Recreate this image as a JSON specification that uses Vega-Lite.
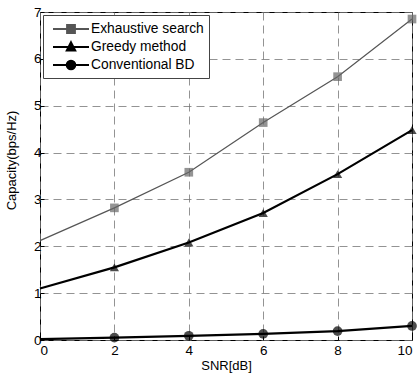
{
  "$schema": "https://vega.github.io/schema/vega-lite/v6.json",
  "width": 372,
  "height": 328,
  "autosize": "none",
  "padding": {"left": 40, "top": 12, "right": 7, "bottom": 34},
  "background": "white",
  "config": {
    "view": {"stroke": "black", "strokeWidth": 1},
    "font": "Liberation Sans",
    "axis": {
      "labelFont": "Liberation Sans", "labelFontSize": 13.5, "labelColor": "black",
      "titleFont": "Liberation Sans", "titleFontSize": 13, "titleFontWeight": "normal", "titleColor": "black",
      "grid": true, "gridColor": "#777", "gridDash": [8, 5], "gridWidth": 0.8,
      "domain": false, "ticks": true, "tickSize": -4, "tickColor": "black"
    },
    "legend": {
      "orient": "top-left", "offset": 3,
      "strokeColor": "#444", "fillColor": "white", "padding": 5,
      "labelFont": "Liberation Sans", "labelFontSize": 13.8, "labelColor": "black",
      "symbolSize": 256, "rowPadding": 1, "symbolOffset": 14, "labelOffset": 11,
      "symbolOpacity": 1, "symbolStrokeWidth": 1.6, "symbolStrokeColor": "black"
    }
  },
  "data": {"values": [
    {"snr": 0, "cap": 2.12, "method": "Exhaustive search"},
    {"snr": 2, "cap": 2.82, "method": "Exhaustive search"},
    {"snr": 4, "cap": 3.58, "method": "Exhaustive search"},
    {"snr": 6, "cap": 4.64, "method": "Exhaustive search"},
    {"snr": 8, "cap": 5.62, "method": "Exhaustive search"},
    {"snr": 10, "cap": 6.85, "method": "Exhaustive search"},
    {"snr": 0, "cap": 1.1, "method": "Greedy method"},
    {"snr": 2, "cap": 1.55, "method": "Greedy method"},
    {"snr": 4, "cap": 2.08, "method": "Greedy method"},
    {"snr": 6, "cap": 2.71, "method": "Greedy method"},
    {"snr": 8, "cap": 3.54, "method": "Greedy method"},
    {"snr": 10, "cap": 4.48, "method": "Greedy method"},
    {"snr": 0, "cap": 0.02, "method": "Conventional BD"},
    {"snr": 2, "cap": 0.05, "method": "Conventional BD"},
    {"snr": 4, "cap": 0.09, "method": "Conventional BD"},
    {"snr": 6, "cap": 0.13, "method": "Conventional BD"},
    {"snr": 8, "cap": 0.19, "method": "Conventional BD"},
    {"snr": 10, "cap": 0.3, "method": "Conventional BD"}
  ]},
  "encoding": {
    "x": {"field": "snr", "type": "quantitative", "scale": {"domain": [0, 10]},
          "axis": {"values": [0, 2, 4, 6, 8, 10], "title": "SNR[dB]", "labelPadding": 7, "titlePadding": 3}},
    "y": {"field": "cap", "type": "quantitative", "scale": {"domain": [0, 7]},
          "axis": {"values": [0, 1, 2, 3, 4, 5, 6, 7], "title": "Capacity(bps/Hz)", "labelPadding": 3, "titleX": -22, "titleY": 148}}
  },
  "layer": [
    {
      "transform": [{"filter": "datum.method == 'Exhaustive search'"}],
      "mark": {"type": "line", "color": "#555", "strokeWidth": 1.2},
      "encoding": {}
    },
    {
      "transform": [{"filter": "datum.method == 'Greedy method'"}],
      "mark": {"type": "line", "color": "#000", "strokeWidth": 2.2},
      "encoding": {}
    },
    {
      "transform": [{"filter": "datum.method == 'Conventional BD'"}],
      "mark": {"type": "line", "color": "#000", "strokeWidth": 2.2},
      "encoding": {}
    },
    {
      "transform": [{"filter": "datum.snr > 0 && datum.method == 'Exhaustive search'"}],
      "mark": {"type": "point", "filled": true, "shape": "square", "size": 75, "color": "#666"}
    },
    {
      "transform": [{"filter": "datum.snr > 0 && datum.method == 'Greedy method'"}],
      "mark": {"type": "point", "filled": true, "shape": "triangle-up", "size": 85, "color": "#000"}
    },
    {
      "transform": [{"filter": "datum.snr > 0 && datum.method == 'Conventional BD'"}],
      "mark": {"type": "point", "filled": true, "shape": "circle", "size": 95, "color": "#000"}
    },
    {
      "mark": {"type": "point", "filled": true, "opacity": 0, "size": 256},
      "encoding": {
        "color": {"field": "method", "type": "nominal",
                  "scale": {"domain": ["Exhaustive search", "Greedy method", "Conventional BD"], "range": ["#555", "#000", "#000"]},
                  "legend": {"title": null,
                    "encode": {"symbols": {"update": {
                      "opacity": {"value": 1}, "fillOpacity": {"value": 1}, "strokeOpacity": {"value": 1},
                      "stroke": {"scale": "color", "field": "value"}, "strokeWidth": {"value": 1.8}}}}}},
        "shape": {"field": "method", "type": "nominal",
                  "scale": {"domain": ["Exhaustive search", "Greedy method", "Conventional BD"],
                            "range": [
                              "M-2.25,0H2.25M-0.5,-0.5H0.5V0.5H-0.5Z",
                              "M-2.25,0H2.25M0,-0.62L0.55,0.45H-0.55Z",
                              "M-2.25,0H2.25M-0.55,0A0.55,0.55,0,1,0,0.55,0A0.55,0.55,0,1,0,-0.55,0Z"
                            ]},
                  "legend": {"title": null,
                    "encode": {"symbols": {"update": {
                      "opacity": {"value": 1}, "fillOpacity": {"value": 1}, "strokeOpacity": {"value": 1},
                      "stroke": {"scale": "color", "field": "value"}, "strokeWidth": {"value": 1.8}}}}}}
      }
    }
  ]
}
